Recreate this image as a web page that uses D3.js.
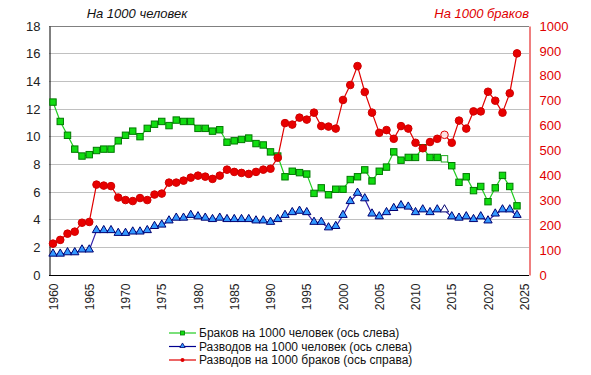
<!DOCTYPE html>
<html><head><meta charset="utf-8">
<script src="https://cdn.jsdelivr.net/npm/d3@7"></script>
<style>body{margin:0;background:#fff}svg{display:block}text{font-family:Arial,"Liberation Sans",sans-serif}</style>
</head><body>
<svg id="c" width="591" height="375"></svg>
<script>
const years = d3.range(1960, 2025);
const marriagesPer1000 = [12.5,11.1,10.1,9.1,8.6,8.7,9.0,9.1,9.1,9.7,10.1,10.4,10.0,10.6,10.9,11.1,10.8,11.2,11.1,11.1,10.6,10.6,10.4,10.5,9.6,9.7,9.8,9.9,9.5,9.4,8.9,8.6,7.1,7.5,7.4,7.3,5.9,6.3,5.8,6.2,6.2,6.9,7.1,7.6,6.8,7.5,7.8,8.9,8.3,8.5,8.5,9.2,8.5,8.5,8.4,7.9,6.7,7.1,6.1,6.4,5.3,6.3,7.2,6.4,5.0];
const divorcesPer1000 = [1.5,1.5,1.6,1.6,1.8,1.8,3.2,3.2,3.2,3.0,3.0,3.1,3.1,3.2,3.5,3.6,3.9,4.1,4.1,4.3,4.2,4.1,4.0,4.1,4.0,4.0,4.0,4.0,3.9,3.9,3.8,4.0,4.3,4.5,4.6,4.5,3.8,3.8,3.4,3.5,4.3,5.3,5.9,5.5,4.4,4.2,4.5,4.8,5.0,4.9,4.5,4.7,4.5,4.7,4.7,4.2,4.1,4.2,4.0,4.2,3.9,4.4,4.7,4.7,4.3];
const divorcesPer1000Marriages = [126,141,166,174,210,213,363,359,357,311,301,297,309,301,323,327,371,371,379,391,399,395,386,399,423,414,410,406,414,423,427,471,610,604,632,624,652,598,596,588,703,763,839,735,652,571,582,547,598,588,531,509,534,547,563,531,620,588,657,657,736,700,652,730,890];
const hollowYears = [2014];
const xTicks = d3.range(1960, 2026, 5);
const leftTicks = d3.range(0, 19, 2);
const rightTicks = d3.range(0, 1001, 100);
const leftTitle = "На 1000 человек";
const rightTitle = "На 1000 браков";
const legendLabels = ["Браков на 1000 человек (ось слева)", "Разводов на 1000 человек (ось слева)", "Разводов на 1000 браков (ось справа)"];

const svg = d3.select("#c");
const X0 = 49, X1 = 529, Y0 = 275, Y1 = 26;
const x = d3.scaleLinear().domain([1960, 2025]).range([53, 524.25]);
const yL = d3.scaleLinear().domain([0, 18]).range([Y0, Y1]);
const yR = d3.scaleLinear().domain([0, 1000]).range([Y0, Y1]);

// gridlines
svg.append("g").selectAll("line").data(leftTicks.filter(t => t > 0 && t < 18)).join("line")
  .attr("x1", X0).attr("x2", X1).attr("y1", d => yL(d)).attr("y2", d => yL(d))
  .attr("stroke", "#c0c0c0").attr("stroke-width", 1).attr("shape-rendering", "crispEdges");
// frame
svg.append("line").attr("x1", X0).attr("x2", X1).attr("y1", Y1 + 0.5).attr("y2", Y1 + 0.5).attr("stroke", "#808080");

// left axis
const gL = svg.append("g").attr("transform", `translate(${X0 + 0.5},0)`)
  .call(d3.axisLeft(yL).tickValues(leftTicks).tickSize(0).tickPadding(9).tickFormat(d3.format("d")));
gL.select(".domain").attr("stroke", "#000");
gL.selectAll("text").attr("font-size", 13).attr("fill", "#222").attr("font-family", "Arial, 'Liberation Sans', sans-serif");

// right axis
const gR = svg.append("g").attr("transform", `translate(${X1 + 0.5},0)`)
  .call(d3.axisRight(yR).tickValues(rightTicks).tickSize(0).tickPadding(10).tickFormat(d3.format("d")));
gR.select(".domain").attr("stroke", "#e00000");
gR.selectAll("text").attr("font-size", 13).attr("fill", "#e00000").attr("font-family", "Arial, 'Liberation Sans', sans-serif");

// bottom axis
const gB = svg.append("g").attr("transform", `translate(0,${Y0 + 0.5})`)
  .call(d3.axisBottom(x).tickValues(xTicks).tickSize(0).tickFormat(d3.format("d")));
gB.select(".domain").attr("stroke", "#000").attr("d", `M${X0},0H${X1}`);
gB.selectAll("text").attr("font-size", 12).attr("fill", "#222")
  .attr("transform", "rotate(-90)").attr("text-anchor", "end")
  .attr("x", -8).attr("y", 0).attr("dy", "0.35em")
  .attr("font-family", "Arial, 'Liberation Sans', sans-serif");

// titles
svg.append("text").attr("x", 137).attr("y", 18).attr("text-anchor", "middle")
  .attr("font-size", 13).attr("font-style", "italic").attr("fill", "#111").text(leftTitle);
svg.append("text").attr("x", 529).attr("y", 18).attr("text-anchor", "end")
  .attr("font-size", 13).attr("font-style", "italic").attr("fill", "#e00000").text(rightTitle);

const isHollow = d => hollowYears.includes(d);

// series: green
const lineL = (vals) => d3.line().x((d, i) => x(years[i])).y(d => yL(d))(vals);
svg.append("path").attr("d", lineL(marriagesPer1000)).attr("fill", "none").attr("stroke", "#22cc22").attr("stroke-width", 1.2);
svg.append("g").selectAll("rect").data(marriagesPer1000).join("rect")
  .attr("x", (d, i) => x(years[i]) - 3.2).attr("y", d => yL(d) - 3.2).attr("width", 6.4).attr("height", 6.4)
  .attr("fill", (d, i) => isHollow(years[i]) ? "#fff" : "#11dd11").attr("stroke", (d, i) => isHollow(years[i]) ? "#22aa22" : "#007a00").attr("stroke-width", 1);

// blue
svg.append("path").attr("d", lineL(divorcesPer1000)).attr("fill", "none").attr("stroke", "#3322aa").attr("stroke-width", 1.2);
const tri = d3.symbol().type(d3.symbolTriangle).size(30);
svg.append("g").selectAll("path").data(divorcesPer1000).join("path")
  .attr("d", tri).attr("transform", (d, i) => `translate(${x(years[i])},${yL(d) - 0.5})`)
  .attr("fill", (d, i) => isHollow(years[i]) ? "#fff" : "#3399ff").attr("stroke", "#000070").attr("stroke-width", 1);

// red
const lineR = d3.line().x((d, i) => x(years[i])).y(d => yR(d));
svg.append("path").attr("d", lineR(divorcesPer1000Marriages)).attr("fill", "none").attr("stroke", "#e00000").attr("stroke-width", 1.2);
svg.append("g").selectAll("circle").data(divorcesPer1000Marriages).join("circle")
  .attr("cx", (d, i) => x(years[i])).attr("cy", d => yR(d)).attr("r", 3.8)
  .attr("fill", (d, i) => isHollow(years[i]) ? "#fbe2e2" : "#e80000").attr("stroke", (d, i) => isHollow(years[i]) ? "#e00000" : "#d00000").attr("stroke-width", 1);

// legend
const legColors = ["#22cc22", "#000090", "#e00000"];
const leg = svg.append("g");
legendLabels.forEach((lab, i) => {
  const yy = 333 + i * 13.5;
  leg.append("line").attr("x1", 169).attr("x2", 196).attr("y1", yy).attr("y2", yy).attr("stroke", legColors[i]).attr("stroke-width", 1.2);
  if (i === 0) leg.append("rect").attr("x", 180.5).attr("y", yy - 2).attr("width", 4).attr("height", 4).attr("fill", "#11dd11").attr("stroke", "#007a00").attr("stroke-width", 0.8);
  if (i === 1) leg.append("path").attr("d", d3.symbol().type(d3.symbolTriangle).size(12)).attr("transform", `translate(182.5,${yy - 0.5})`).attr("fill", "#3399ff").attr("stroke", "#000070").attr("stroke-width", 0.8);
  if (i === 2) leg.append("circle").attr("cx", 182.5).attr("cy", yy).attr("r", 2).attr("fill", "#e00000");
  leg.append("text").attr("x", 199).attr("y", yy).attr("dy", "0.36em").attr("font-size", 12).attr("fill", "#111").text(lab);
});
</script>
</body></html>
